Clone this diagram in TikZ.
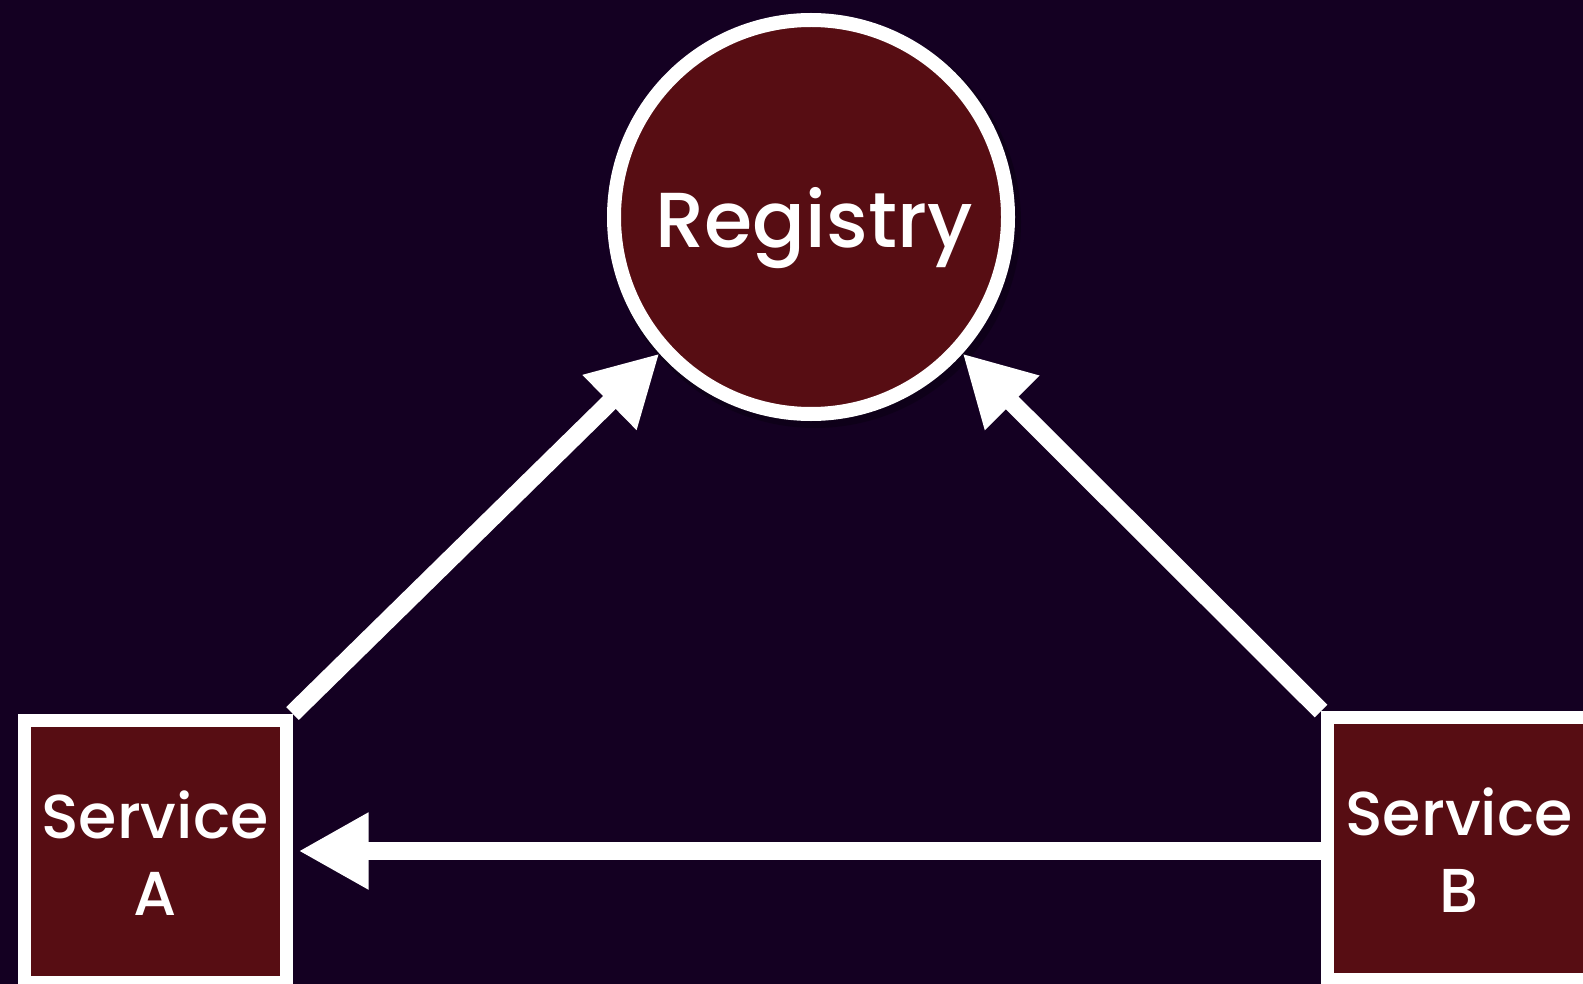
\documentclass[tikz,border=0pt]{standalone}
\usepackage{fontspec}
\setmainfont{Poppins Medium}
\usetikzlibrary{arrows.meta}
\definecolor{bgc}{HTML}{140022}
\definecolor{boxc}{HTML}{570D13}
\begin{document}
\begin{tikzpicture}[x=0.5pt,y=-0.5pt,
  svc/.style={draw=white,line width=6.5pt,fill=boxc,minimum size=131pt,inner sep=0pt},
  svctext/.style={text=white,font=\fontsize{31}{38.5}\selectfont,anchor=base,inner sep=0pt},
  reg/.style={draw=white,line width=7pt,fill=boxc,circle,minimum size=197pt,inner sep=0pt},
  regtext/.style={text=white,font=\fontsize{39}{44}\selectfont,anchor=base,inner sep=0pt},
  arr/.style={draw=white,line width=9pt,-{Triangle[length=35pt,width=36pt]}}]
\fill[bgc] (0,0) rectangle (1583,984);
\useasboundingbox (0,0) rectangle (1583,984);
\fill[black,opacity=0.25] (815,222) circle[radius=206];
\node[reg] (R) at (811,217) {};
\node[regtext] (Rt) at (814,248) {Registry};
\node[svc] (A) at (155,851) {};
\node[svctext] (At1) at (155,838) {Service};
\node[svctext] (At2) at (155,915) {A};
\node[svc] (B) at (1458.5,848.5) {};
\node[svctext] (Bt1) at (1459,835) {Service};
\node[svctext] (Bt2) at (1459,912) {B};
\draw[arr] (A.north east) -- (R.222);
\draw[arr] (B.north west) -- (R.318);
\draw[arr,shorten >=3pt] (B.west |- A.east) -- (A.east);
\end{tikzpicture}
\end{document}
